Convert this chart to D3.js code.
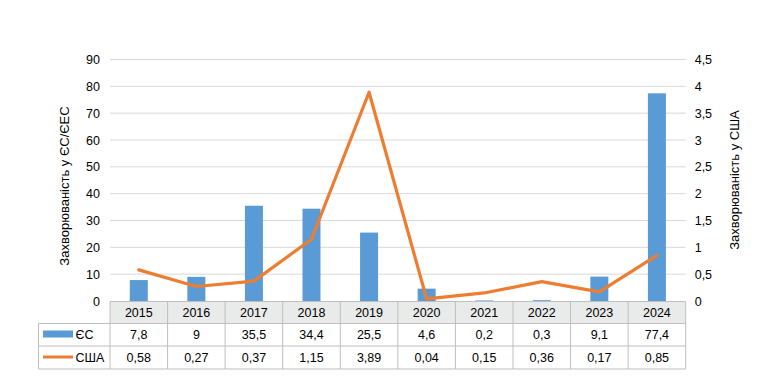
<!DOCTYPE html>
<html><head><meta charset="utf-8">
<script src="https://cdn.jsdelivr.net/npm/d3@7"></script>
<style>body{margin:0;background:#fff}svg{display:block;font-family:"Liberation Sans",Arial,sans-serif}</style>
</head><body><svg id="c" width="771" height="376"></svg>
<script>
const years = ["2015","2016","2017","2018","2019","2020","2021","2022","2023","2024"];
const euValues = [7.8,9,35.5,34.4,25.5,4.6,0.2,0.3,9.1,77.4];
const usValues = [0.58,0.27,0.37,1.15,3.89,0.04,0.15,0.36,0.17,0.85];
const euLabels = ["7,8","9","35,5","34,4","25,5","4,6","0,2","0,3","9,1","77,4"];
const usLabels = ["0,58","0,27","0,37","1,15","3,89","0,04","0,15","0,36","0,17","0,85"];
const leftTicks = [0,10,20,30,40,50,60,70,80,90];
const rightTicks = [0,0.5,1,1.5,2,2.5,3,3.5,4,4.5];
const seriesNames = ["ЄС","США"];
const leftTitle = "Захворюваність у ЄС/ЄЕС";
const rightTitle = "Захворюваність у США";

const svg = d3.select("#c");
const L = 110, R = 685.7, T = 59.5, B = 301;
const x = d3.scaleBand().domain(years).range([L, R]);
const yL = d3.scaleLinear().domain([0, 90]).range([B, T]);
const yR = d3.scaleLinear().domain([0, 4.5]).range([B, T]);
const blue = "#5b9bd5", orange = "#ed7d31", grid = "#d9d9d9", border = "#bfbfbf", txt = "#000";
const fs = 12.5;

// gridlines
svg.append("g").selectAll("line").data(leftTicks.filter(d=>d>0)).join("line")
  .attr("x1", L).attr("x2", R).attr("y1", d=>yL(d)).attr("y2", d=>yL(d))
  .attr("stroke", grid).attr("stroke-width", 1);

// left axis
const gl = svg.append("g").attr("transform", `translate(${L},0)`)
  .call(d3.axisLeft(yL).tickValues(leftTicks).tickSize(0).tickPadding(10).tickFormat(d=>d));
gl.select(".domain").remove();
gl.selectAll("text").attr("font-size", fs).attr("fill", txt).attr("font-family", "inherit");

// right axis
const gr = svg.append("g").attr("transform", `translate(${R},0)`)
  .call(d3.axisRight(yR).tickValues(rightTicks).tickSize(0).tickPadding(9).tickFormat(d=>String(d).replace(".", ",")));
gr.select(".domain").remove();
gr.selectAll("text").attr("font-size", fs).attr("fill", txt).attr("font-family", "inherit");

// titles
svg.append("text").attr("transform", `translate(69,186) rotate(-90)`).attr("text-anchor","middle")
  .attr("font-size", 13).attr("fill", txt).text(leftTitle);
svg.append("text").attr("transform", `translate(739,180) rotate(-90)`).attr("text-anchor","middle")
  .attr("font-size", 13).attr("fill", txt).text(rightTitle);

// bars
const bw = 18;
svg.append("g").selectAll("rect").data(euValues).join("rect")
  .attr("x", (d,i)=>x(years[i]) + x.bandwidth()/2 - bw/2)
  .attr("width", bw)
  .attr("y", d=>yL(d)).attr("height", d=>B - yL(d))
  .attr("fill", blue);

// line
const line = d3.line().x((d,i)=>x(years[i]) + x.bandwidth()/2).y(d=>yR(d));
svg.append("path").datum(usValues).attr("d", line).attr("fill","none")
  .attr("stroke", orange).attr("stroke-width", 3.2).attr("stroke-linejoin","round").attr("stroke-linecap","round");

// data table
const rowTop = [301.5, 323.5, 346];
const rowBot = [323.5, 346, 369];
const tableLeft = 38.5;
const tg = svg.append("g");
// header bg
tg.append("rect").attr("x", L).attr("y", rowTop[0]).attr("width", R - L).attr("height", rowBot[0]-rowTop[0]).attr("fill", "#e9eaea");
// horizontal lines
tg.append("line").attr("x1", L).attr("x2", R).attr("y1", rowTop[0]).attr("y2", rowTop[0]).attr("stroke", border);
[rowBot[0], rowBot[1], rowBot[2]].forEach(yv=>{
  tg.append("line").attr("x1", tableLeft).attr("x2", R).attr("y1", yv).attr("y2", yv).attr("stroke", border);
});
// vertical lines
const xs = years.map(y=>x(y)).concat([R]);
xs.forEach(xv=>{
  tg.append("line").attr("x1", xv).attr("x2", xv).attr("y1", rowTop[0]).attr("y2", rowBot[2]).attr("stroke", border);
});
tg.append("line").attr("x1", tableLeft).attr("x2", tableLeft).attr("y1", rowTop[1]).attr("y2", rowBot[2]).attr("stroke", border);

// header text
tg.selectAll("text.h").data(years).join("text").attr("class","h")
  .attr("x", d=>x(d)+x.bandwidth()/2).attr("y", (rowTop[0]+rowBot[0])/2).attr("dy","0.35em")
  .attr("text-anchor","middle").attr("font-size", fs).attr("fill", txt).text(d=>d);
tg.selectAll("text.e").data(euLabels).join("text").attr("class","e")
  .attr("x", (d,i)=>x(years[i])+x.bandwidth()/2).attr("y", (rowTop[1]+rowBot[1])/2).attr("dy","0.35em")
  .attr("text-anchor","middle").attr("font-size", fs).attr("fill", txt).text(d=>d);
tg.selectAll("text.u").data(usLabels).join("text").attr("class","u")
  .attr("x", (d,i)=>x(years[i])+x.bandwidth()/2).attr("y", (rowTop[2]+rowBot[2])/2).attr("dy","0.35em")
  .attr("text-anchor","middle").attr("font-size", fs).attr("fill", txt).text(d=>d);

// legend keys
tg.append("rect").attr("x", 43).attr("y", 330.5).attr("width", 30).attr("height", 7).attr("fill", blue);
tg.append("text").attr("x", 75.5).attr("y", (rowTop[1]+rowBot[1])/2).attr("dy","0.35em").attr("font-size", fs).attr("fill", txt).text(seriesNames[0]);
tg.append("line").attr("x1", 43).attr("x2", 73).attr("y1", 357).attr("y2", 357).attr("stroke", orange).attr("stroke-width", 3);
tg.append("text").attr("x", 75.5).attr("y", (rowTop[2]+rowBot[2])/2).attr("dy","0.35em").attr("font-size", fs).attr("fill", txt).text(seriesNames[1]);
</script></body></html>
